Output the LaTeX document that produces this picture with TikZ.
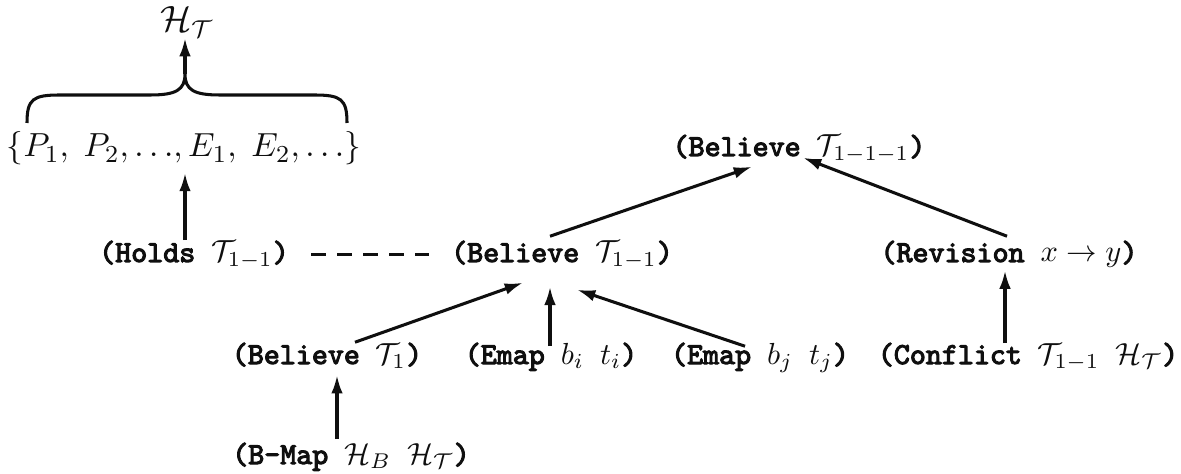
\documentclass[tikz,border=0pt]{standalone}
\usepackage{amsmath,amssymb}
\usepackage{fontspec}
\usepackage{tikz}
\usetikzlibrary{arrows.meta,calc}
\newfontfamily\ttbold{Latin Modern Mono}[FakeBold=3.5]
\definecolor{figline}{RGB}{15,15,15}
\tikzset{
  trm/.style ={font=\ttbold, inner sep=0pt, anchor=base, text=figline},
  mth/.style ={font=\fontsize{11.4}{14}\selectfont, inner sep=0pt, anchor=base, text=figline},
  arr/.style ={draw=figline, line width=1pt, -{Latex[length=6pt,width=3.8pt]}},
  lnk/.style ={draw=figline, line width=1pt, dash pattern=on 4.8pt off 3.7pt},
  brc/.style ={draw=figline, line width=1pt},
}

\begin{document}
\begin{tikzpicture}[x=0.328pt,y=-0.328pt]
  \useasboundingbox (0,0) rectangle (1181,474);
  % hypothesis set and its brace
  \node[mth,font=\large] (ht) at (187,32) {$\mathcal{H}_{\mathcal{T}}$};
  \node[mth] (set) at (184,157) {$\{P_1,\; P_2,{\ldots},E_1,\; E_2,{\ldots}\}$};
  \coordinate (tip) at (185,74);
  \draw[brc] (27,123) .. controls (27,99) and (33,95) .. (60,95) -- (150,95)
    .. controls (176,95) and (185,90) .. (tip)
    .. controls (185,90) and (194,95) .. (220,95) -- (314,95)
    .. controls (341,95) and (347,99) .. (347,123);
  \draw[arr] (tip) -- (ht.south -| tip);
  % terms
  \node[trm] (bel111) at (799,156) {(Believe $\mathcal{T}_{1-1-1}$)};
  \node[trm] (holds) at (194,262) {(Holds $\mathcal{T}_{1-1}$)};
  \node[trm] (bel11) at (562,262) {(Believe $\mathcal{T}_{1-1}$)};
  \node[trm] (rev) at (1009,262) {(Revision $x\rightarrow y$)};
  \node[trm] (bel1) at (327,364) {(Believe $\mathcal{T}_1$)};
  \node[trm] (emapi) at (551,364) {(Emap $b_i$ $t_i$)};
  \node[trm] (emapj) at (760,364) {(Emap $b_j$ $t_j$)};
  \node[trm] (confl) at (1028,364) {(Conflict $\mathcal{T}_{1-1}$ $\mathcal{H}_{\mathcal{T}}$)};
  \node[trm] (bmap) at (351,464) {(B-Map $\mathcal{H}_B$ $\mathcal{H}_{\mathcal{T}}$)};
  % links
  \draw[arr] (holds.north -| tip) -- ($(set.south -| tip)+(0,7)$);
  \draw[lnk] ($(holds.east)+(22,0)$) -- ($(bel11.west)+(-22,0)$);
  \draw[arr] ($(bel11.north)+(-12,-4)$) -- ($(bel111.south)+(-47,3)$);
  \draw[arr] ($(rev.north)+(-2,-4)$) -- ($(bel111.south)+(4,-6)$);
  \draw[arr] ($(bel1.north)+(28,0)$) -- ($(bel11.south)+(-39,13)$);
  \draw[arr] ($(emapi.north)+(-1,4)$) -- ($(bel11.south)+(-12,17)$);
  \draw[arr] ($(emapj.north)+(-15,4)$) -- ($(bel11.south)+(15,20)$);
  \draw[arr] ($(confl.north)+(-23,1)$) -- ($(rev.south)+(-4,2)$);
  \draw[arr] ($(bmap.north)+(-14,-3)$) -- ($(bel1.south)+(10,6)$);
\end{tikzpicture}
\end{document}
